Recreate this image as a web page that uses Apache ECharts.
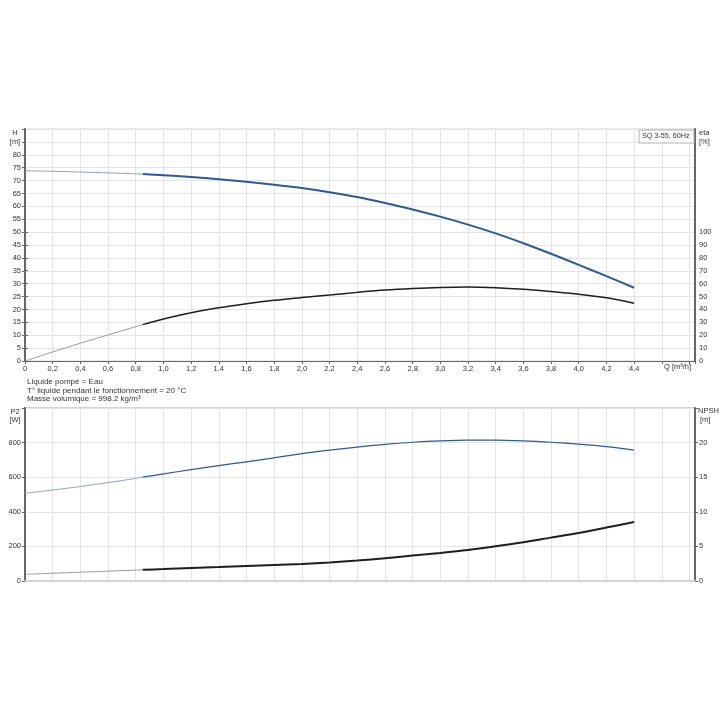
<!DOCTYPE html>
<html><head><meta charset="utf-8">
<script src="https://cdn.jsdelivr.net/npm/echarts@6/dist/echarts.min.js"></script>
<style>html,body{margin:0;padding:0;background:#fff}#c{width:720px;height:720px}</style>
</head><body><div id="c"></div>
<script>
// Flow rate Q [m3/h]
const Q    = [0, 0.2, 0.4, 0.6, 0.8, 0.85, 1.0, 1.2, 1.4, 1.6, 1.8, 2.0, 2.2, 2.4, 2.6, 2.8, 3.0, 3.2, 3.4, 3.6, 3.8, 4.0, 4.2, 4.4];
// Head H [m]
const H    = [73.8, 73.6, 73.3, 73.0, 72.6, 72.5, 72.1, 71.4, 70.5, 69.5, 68.4, 67.1, 65.5, 63.6, 61.3, 58.8, 56.0, 52.9, 49.5, 45.7, 41.6, 37.3, 32.9, 28.4];
// Efficiency eta [%]
const ETA  = [0, 7.0, 13.8, 20.2, 26.6, 28.2, 32.6, 37.4, 41.2, 44.3, 47.0, 49.2, 51.2, 53.2, 55.0, 56.2, 57.0, 57.3, 56.8, 55.6, 53.8, 51.8, 49.0, 44.8];
// Power P2 [W]
const P2   = [507, 526, 546, 569, 593, 600, 619, 644, 667, 689, 712, 736, 756, 774, 790, 802, 810, 814, 814, 810, 802, 791, 777, 757];
// NPSH [m]
const NPSH = [0.97, 1.12, 1.27, 1.42, 1.58, 1.62, 1.72, 1.87, 2.02, 2.18, 2.33, 2.47, 2.68, 2.95, 3.30, 3.67, 4.05, 4.48, 5.01, 5.59, 6.27, 6.94, 7.72, 8.53];
const SPLIT = 5; // index where the operating range (thick line) starts

const xTickLabels = v => (v > 4.45 ? '' : (Math.abs(v) < 1e-9 ? '0' : v.toFixed(1).replace('.', ',')));
const infoLines = ['Liquide pompé = Eau', 'T° liquide pendant le fonctionnement = 20 °C', 'Masse volumique = 998.2 kg/m³'];
const legendText = 'SQ 3-55, 60Hz';

const FONT = 'Liberation Sans, Arial, sans-serif';
const GRID_C = '#e4e4e4';
const AX_C = '#666';
const BLUE = '#2c5a99';
const BLUE_T = '#8da3c4';
const BLACK = '#1e1e1e';
const BLACK_T = '#9a9a9a';

function pairs(arr) { return Q.map((q, i) => [q, arr[i]]); }
function thin(arr) { return pairs(arr).slice(0, SPLIT + 1); }
function thick(arr) { return pairs(arr).slice(SPLIT); }

const XMAX = 4.84;
const baseX = {
  type: 'value', min: 0, max: XMAX, interval: 0.2,
  splitLine: { show: true, lineStyle: { color: GRID_C, width: 1 } }
};
const lbl = { fontSize: 7.5, color: '#333', fontFamily: FONT };

const chart = echarts.init(document.getElementById('c'), null, { renderer: 'canvas' });
const txt = (x, y, s, align, size) => ({ type: 'text', x: x, y: y, style: { text: s, x: 0, y: 0, fill: '#333', font: (size || 7.5) + 'px ' + FONT, textAlign: align || 'left', textVerticalAlign: 'middle' }, z: 100 });

chart.setOption({
  animation: false,
  backgroundColor: '#fff',
  grid: [
    { left: 25, right: 25, top: 129, bottom: 359, show: true, borderColor: '#d4d4d4', borderWidth: 1 },
    { left: 25, right: 25, top: 232, bottom: 359 },
    { left: 25, right: 25, top: 408, bottom: 139, show: true, borderColor: '#d4d4d4', borderWidth: 2 }
  ],
  xAxis: [
    Object.assign({}, baseX, { gridIndex: 0,
      axisLine: { show: true, lineStyle: { color: AX_C, width: 1 } },
      axisTick: { show: true, length: 3, lineStyle: { color: AX_C } },
      axisLabel: Object.assign({}, lbl, { margin: 4, formatter: xTickLabels, showMaxLabel: true }) }),
    Object.assign({}, baseX, { gridIndex: 1, show: false }),
    Object.assign({}, baseX, { gridIndex: 2,
      axisLine: { show: true, lineStyle: { color: '#d4d4d4', width: 2 } },
      axisTick: { show: false }, axisLabel: { show: false } })
  ],
  yAxis: [
    { gridIndex: 0, type: 'value', min: 0, max: 90, interval: 5, position: 'left',
      axisLine: { show: true, lineStyle: { color: AX_C, width: 2 } },
      axisTick: { show: true, length: 3, lineStyle: { color: AX_C } },
      axisLabel: Object.assign({}, lbl, { margin: 4, formatter: v => (v > 80 ? '' : String(v)) }),
      splitLine: { show: true, lineStyle: { color: GRID_C, width: 1 } } },
    { gridIndex: 0, type: 'value', min: 0, max: 90, position: 'right',
      axisLine: { show: true, lineStyle: { color: AX_C, width: 2 } },
      axisTick: { show: false }, axisLabel: { show: false }, splitLine: { show: false } },
    { gridIndex: 1, type: 'value', min: 0, max: 100, interval: 10, position: 'right',
      axisLine: { show: false },
      axisTick: { show: true, length: 3, lineStyle: { color: AX_C } },
      axisLabel: Object.assign({}, lbl, { margin: 4 }), splitLine: { show: false } },
    { gridIndex: 2, type: 'value', min: 0, max: 1000, interval: 200, position: 'left',
      axisLine: { show: true, lineStyle: { color: AX_C, width: 2 } },
      axisTick: { show: true, length: 3, lineStyle: { color: AX_C } },
      axisLabel: Object.assign({}, lbl, { margin: 4, formatter: v => (v > 800 ? '' : String(v)) }),
      splitLine: { show: true, lineStyle: { color: GRID_C, width: 1 } } },
    { gridIndex: 2, type: 'value', min: 0, max: 25, interval: 5, position: 'right',
      axisLine: { show: true, lineStyle: { color: AX_C, width: 2 } },
      axisTick: { show: true, length: 3, lineStyle: { color: AX_C } },
      axisLabel: Object.assign({}, lbl, { margin: 4, formatter: v => (v > 20 ? '' : String(v)) }),
      splitLine: { show: false } }
  ],
  series: [
    { type: 'line', xAxisIndex: 0, yAxisIndex: 0, data: thin(H), showSymbol: false, smooth: 0.3, lineStyle: { color: BLUE_T, width: 1 } },
    { type: 'line', xAxisIndex: 0, yAxisIndex: 0, data: thick(H), showSymbol: false, smooth: 0.3, lineStyle: { color: BLUE, width: 2 } },
    { type: 'line', xAxisIndex: 1, yAxisIndex: 2, data: thin(ETA), showSymbol: false, smooth: 0.3, lineStyle: { color: BLACK_T, width: 1 } },
    { type: 'line', xAxisIndex: 1, yAxisIndex: 2, data: thick(ETA), showSymbol: false, smooth: 0.3, lineStyle: { color: BLACK, width: 1.5 } },
    { type: 'line', xAxisIndex: 2, yAxisIndex: 3, data: thin(P2), showSymbol: false, smooth: 0.3, lineStyle: { color: BLUE_T, width: 1 } },
    { type: 'line', xAxisIndex: 2, yAxisIndex: 3, data: thick(P2), showSymbol: false, smooth: 0.3, lineStyle: { color: BLUE, width: 1.2 } },
    { type: 'line', xAxisIndex: 2, yAxisIndex: 4, data: thin(NPSH), showSymbol: false, smooth: 0.3, lineStyle: { color: BLACK_T, width: 1 } },
    { type: 'line', xAxisIndex: 2, yAxisIndex: 4, data: thick(NPSH), showSymbol: false, smooth: 0.3, lineStyle: { color: BLACK, width: 2 } }
  ],
  graphic: [
    txt(15, 133, 'H', 'center'),
    txt(15, 142, '[m]', 'center'),
    txt(699, 133, 'eta', 'left'),
    txt(699, 142, '[%]', 'left'),
    txt(664, 367, 'Q [m³/h]', 'left'),
    txt(27, 382, infoLines[0], 'left', 8),
    txt(27, 390.5, infoLines[1], 'left', 8),
    txt(27, 399, infoLines[2], 'left', 8),
    txt(15, 412, 'P2', 'center'),
    txt(15, 420, '[W]', 'center'),
    txt(698, 411, 'NPSH', 'left'),
    txt(700, 420, '[m]', 'left'),
    { type: 'rect', x: 639, y: 130, shape: { x: 0, y: 0, width: 55, height: 13 }, style: { fill: '#fff', stroke: '#b0b0b0', lineWidth: 1 }, z: 99 },
    txt(642, 136.5, legendText, 'left', 7.2)
  ]
});
</script></body></html>
